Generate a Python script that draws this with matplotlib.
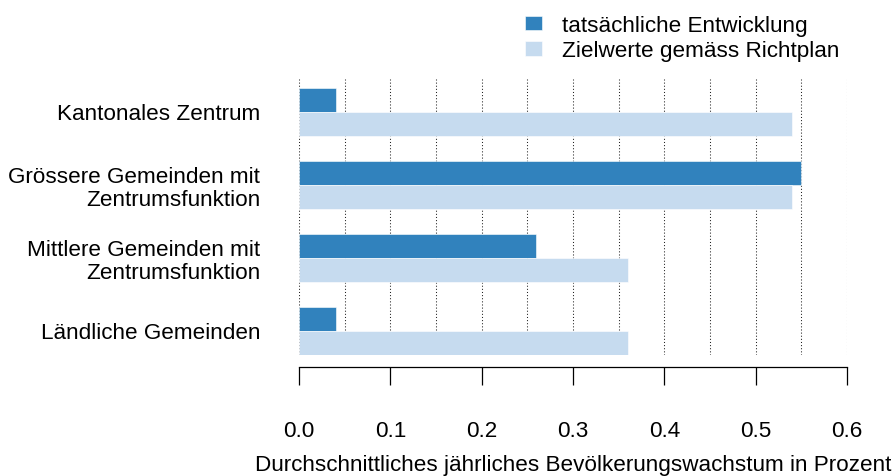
import matplotlib.pyplot as plt
import numpy as np

plt.rcParams['font.family'] = ['Liberation Sans', 'DejaVu Sans']

kategorien = ['Kantonales Zentrum',
              'Grössere Gemeinden mit\nZentrumsfunktion',
              'Mittlere Gemeinden mit\nZentrumsfunktion',
              'Ländliche Gemeinden']
tatsaechlich = [0.04, 0.55, 0.26, 0.04]
zielwerte = [0.54, 0.54, 0.36, 0.36]
xticks = [0.0, 0.1, 0.2, 0.3, 0.4, 0.5, 0.6]

dunkel = '#3182bd'
hell = '#c6dbef'
fs = 16.2

fig = plt.figure(figsize=(8.95, 4.77), dpi=100)
ax = fig.add_axes([299 / 895, 1 - 356 / 477, 548 / 895, 276 / 477])

y = np.arange(len(kategorien))
h = 24 / 73
ax.barh(y - h / 2, tatsaechlich, height=h, color=dunkel, edgecolor='white', linewidth=0.4,
        label='tatsächliche Entwicklung', zorder=3)
ax.barh(y + h / 2, zielwerte, height=h, color=hell, edgecolor='white', linewidth=0.4,
        label='Zielwerte gemäss Richtplan', zorder=3)

ax.set_ylim(3 + 24.5 / 73, -32.5 / 73)
ax.set_xlim(0, 0.6)
ax.set_yticks(y)
ax.set_yticklabels(kategorien, fontsize=fs, linespacing=1.15)
ax.tick_params(axis='y', length=0, pad=28)

ax.set_xticks(np.arange(0, 0.61, 0.05), minor=True)
ax.set_xticks(xticks)
ax.set_xticklabels([f'{v:.1f}' for v in xticks])
ax.tick_params(axis='x', which='major', length=13, width=0.9, direction='out', pad=25,
               labelsize=fs)
ax.tick_params(axis='x', which='minor', length=0)
ax.xaxis.grid(True, which='both', linestyle=(0, (1, 2)), color='#222222', linewidth=0.75, zorder=0)

for s in ['top', 'right', 'left']:
    ax.spines[s].set_visible(False)
ax.spines['bottom'].set_position(('outward', 8.5))
ax.spines['bottom'].set_linewidth(0.9)

ax.set_xlabel('Durchschnittliches jährliches Bevölkerungswachstum in Prozent', fontsize=fs, labelpad=10)

fig.legend(loc='upper left', bbox_to_anchor=(525 / 895, 1 - 16 / 477), frameon=False,
           fontsize=fs, handlelength=0.76, handleheight=0.62, handletextpad=0.9,
           labelspacing=0.2, borderpad=0, borderaxespad=0)

fig.savefig('out.png', dpi=100)
